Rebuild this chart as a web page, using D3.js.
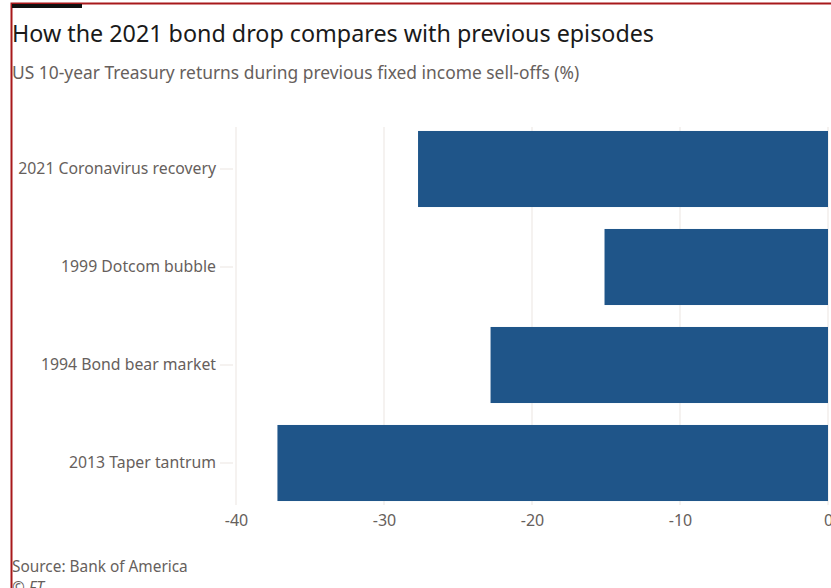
<!DOCTYPE html>
<html>
<head>
<meta charset="utf-8">
<script src="https://cdn.jsdelivr.net/npm/d3@7"></script>
<style>
  body { margin: 0; background: #fff; }
  svg { display: block; font-family: "Noto Sans", sans-serif; }
</style>
</head>
<body>
<div id="chart"></div>
<script>
const categories = ["2021 Coronavirus recovery", "1999 Dotcom bubble", "1994 Bond bear market", "2013 Taper tantrum"];
const returns = [-27.7, -15.1, -22.8, -37.2];
const xTicks = [-40, -30, -20, -10, 0];

const width = 831, height = 588;
const svg = d3.select("#chart").append("svg")
  .attr("width", width)
  .attr("height", height);

// frame
svg.append("rect")
  .attr("x", 11.5).attr("y", 3.5)
  .attr("width", 840).attr("height", 600)
  .attr("fill", "none")
  .attr("stroke", "#a8191b")
  .attr("stroke-width", 2);
svg.append("rect")
  .attr("x", 12).attr("y", 4)
  .attr("width", 70).attr("height", 4)
  .attr("fill", "#111");

svg.append("text")
  .attr("x", 12).attr("y", 42)
  .style("font-size", "23.3px")
  .style("fill", "#1a1a1a")
  .text("How the 2021 bond drop compares with previous episodes");

svg.append("text")
  .attr("x", 12).attr("y", 79)
  .style("font-size", "17.4px")
  .style("fill", "#66605c")
  .text("US 10-year Treasury returns during previous fixed income sell-offs (%)");

const x = d3.scaleLinear().domain([-40, 0]).range([236, 828]);
const y = d3.scaleBand().domain(categories).range([120, 512]).paddingInner(0.224).paddingOuter(0.112);

// gridlines
svg.append("g")
  .selectAll("line")
  .data(xTicks)
  .join("line")
  .attr("x1", d => x(d)).attr("x2", d => x(d))
  .attr("y1", 127).attr("y2", 505)
  .attr("stroke", "#ebe5e1")
  .attr("stroke-width", 1);

// bars
svg.append("g")
  .selectAll("rect")
  .data(returns)
  .join("rect")
  .attr("x", d => x(d))
  .attr("y", (d, i) => y(categories[i]))
  .attr("width", d => x(0) - x(d))
  .attr("height", y.bandwidth())
  .attr("fill", "#1f5589");

// x axis
const xAxis = svg.append("g")
  .attr("transform", "translate(0,505)")
  .call(d3.axisBottom(x).tickValues(xTicks).tickFormat(d => String(d)).tickSize(0).tickPadding(10));
xAxis.select(".domain").remove();
xAxis.selectAll("text")
  .style("font-size", "16px")
  .style("fill", "#66605c")
  .style("font-family", "'Noto Sans', sans-serif");

// y axis
const yAxis = svg.append("g")
  .attr("transform", "translate(233,0)")
  .call(d3.axisLeft(y).tickSize(13).tickPadding(4));
yAxis.select(".domain").remove();
yAxis.selectAll("line").attr("stroke", "#ebe5e1");
yAxis.selectAll("text")
  .style("font-size", "15.8px")
  .style("fill", "#66605c")
  .style("font-family", "'Noto Sans', sans-serif");

svg.append("text")
  .attr("x", 12).attr("y", 572)
  .style("font-size", "15.4px")
  .style("fill", "#66605c")
  .text("Source: Bank of America");
svg.append("text")
  .attr("x", 12).attr("y", 593)
  .style("font-size", "15.4px")
  .style("font-style", "italic")
  .style("fill", "#66605c")
  .text("© FT");
</script>
</body>
</html>
